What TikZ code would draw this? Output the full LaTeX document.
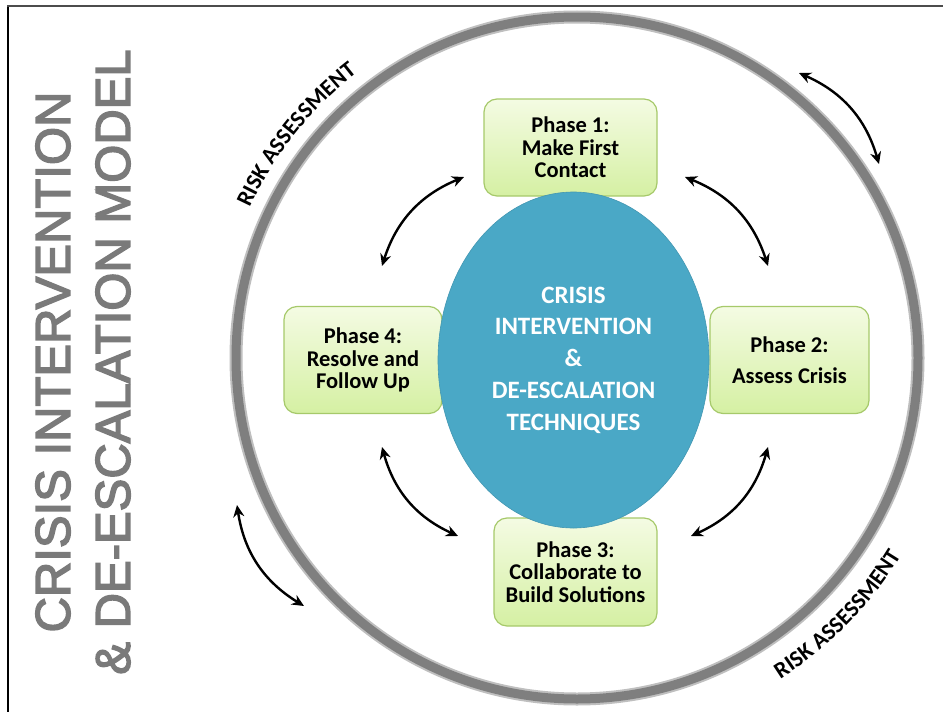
\documentclass[tikz,border=0pt]{standalone}
\usepackage{fontspec}
\setmainfont{Carlito}
\newfontfamily\titlefont[FakeBold=3]{Liberation Sans}
\usetikzlibrary{arrows.meta, calc, shapes.geometric, decorations.text}

\definecolor{ringgray}{HTML}{7F7F7F}
\definecolor{titlegray}{HTML}{7A7A7A}
\definecolor{coreblue}{HTML}{4AA8C6}
\definecolor{phaseline}{HTML}{A6C96A}
\definecolor{phasetop}{HTML}{F4FBE3}
\definecolor{phasebottom}{HTML}{D5F0A3}

\tikzset{
    phase/.style={draw=phaseline, line width=1.2pt, rounded corners=13pt,
        top color=phasetop, bottom color=phasebottom, align=center,
        inner sep=0pt, font=\bfseries\fontsize{22.5}{22.5}\selectfont},
    swap arrow/.style={{Stealth[length=12pt, width=11pt]}-{Stealth[length=12pt, width=11pt]},
        line width=2.4pt, black},
    risk/.style={decorate, decoration={text along path, text align=center,
        text={|\bfseries\fontsize{23}{23}\selectfont|RISK ASSESSMENT}}}
}

\begin{document}
\begin{tikzpicture}[x=1pt, y=-1pt]
    \useasboundingbox (0,0) rectangle (943,712);
    % Frame
    \draw[black, line width=2pt] (8,6) -- (8,712);
    \draw[black!70, line width=2.5pt] (7,6) -- (943,6);

    % Origin of the ring
    \coordinate (O) at (577,358);
    % Outer ring
    \draw[ringgray!50, line width=13pt] (O) circle (341pt);
    \draw[ringgray, line width=9pt] (O) circle (341pt);

    % Phase boxes
    \node[phase, minimum width=173pt, minimum height=97pt] (p1) at (570.5,147.5) {Phase 1:\\Make First\\Contact};
    \node[phase, minimum width=159pt, minimum height=107pt] (p2) at (789.5,360) {Phase 2:\\[9pt]Assess Crisis};
    \node[phase, minimum width=163pt, minimum height=108pt] (p3) at (575.5,572) {Phase 3:\\Collaborate to\\Build Solutions};
    \node[phase, minimum width=158pt, minimum height=107pt] (p4) at (363,360) {Phase 4:\\Resolve and\\Follow Up};

    % Centre ellipse
    \node[ellipse, fill=coreblue, draw=coreblue!90!black, line width=0.6pt,
        minimum width=271pt, minimum height=336pt, inner sep=0pt, align=center,
        text=white, font=\bfseries\fontsize{25}{31.7}\selectfont] (core) at (573.5,360)
        {CRISIS\\INTERVENTION\\\&\\DE-ESCALATION\\TECHNIQUES};

    % Arrows between the phases
    \coordinate (a41) at (382,266);
    \coordinate (a14) at (464,177);
    \coordinate (a12) at (685,177);
    \coordinate (a21) at (768,266);
    \coordinate (a23) at (768,447);
    \coordinate (a32) at (691,536);
    \coordinate (a34) at (458,536);
    \coordinate (a43) at (382,447);
    \draw[swap arrow] (a41) to[bend left=25] (a14);
    \draw[swap arrow] (a12) to[bend left=25] (a21);
    \draw[swap arrow] (a23) to[bend left=25] (a32);
    \draw[swap arrow] (a34) to[bend left=25] (a43);

    % Arrows outside the ring
    \coordinate (o1) at (799,73);
    \coordinate (o2) at (879,164);
    \coordinate (o3) at (237,505);
    \coordinate (o4) at (304,606);
    \draw[swap arrow] (o1) to[bend left=25] (o2);
    \draw[swap arrow] (o3) to[bend right=25] (o4);

    % Risk assessment along the ring
    \path[risk] ($(O)+(159:360pt)$) arc[start angle=159, end angle=124, radius=360pt];
    \path[risk] ($(O)+(-62:380pt)$) arc[start angle=-62, end angle=-27, radius=380pt];

    % Title
    \node[rotate=90, align=center, text=titlegray,
        font=\titlefont\fontsize{49}{60}\selectfont] (title) at (83,362)
        {CRISIS INTERVENTION\\\& DE-ESCALATION MODEL};
\end{tikzpicture}
\end{document}
